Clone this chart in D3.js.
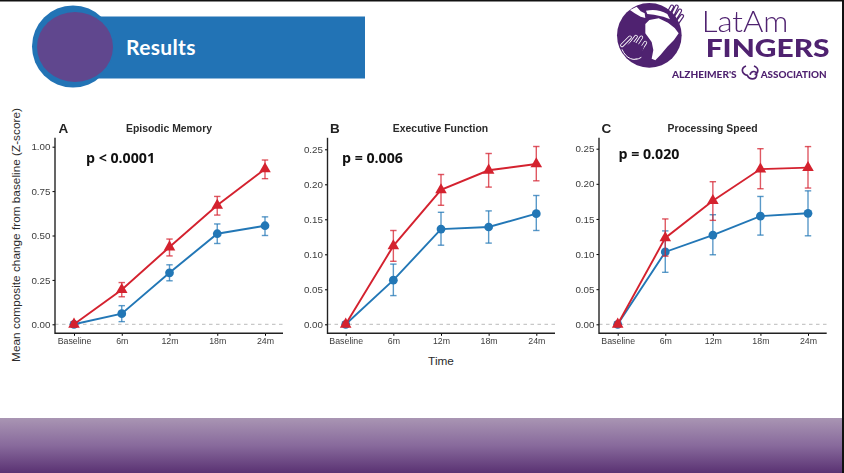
<!DOCTYPE html>
<html>
  <head>
    <meta charset="utf-8" />
    <!-- Load d3.js -->
    <script src="https://d3js.org/d3.v7.min.js"></script>
    <style>
      html, body { margin: 0; padding: 0; background: #fff; overflow: hidden; }
      svg { display: block; }
      text { font-family: "Liberation Sans", Arial, sans-serif; }
      .tick-y text { font-size: 9.8px; fill: #3c3c3c; }
      .tick-x text { font-size: 8.8px; fill: #3c3c3c; }
      .pval { font-family: "Open Sans", sans-serif; font-weight: 700; font-size: 14.2px; fill: #111; }
      .letter { font-weight: 700; font-size: 13.5px; fill: #222; }
      .title { font-weight: 700; font-size: 10.4px; fill: #2b2b2b; }
      .axis-title { font-size: 11.8px; fill: #2b2b2b; }
    </style>
  </head>
  <body>
    <svg id="chart" width="844" height="473"></svg>

    <script>
      // time points shared by all panels
      const timepoints = ["Baseline", "6m", "12m", "18m", "24m"];

      // panel A - episodic memory
      const memoryTicks = [0, 0.25, 0.5, 0.75, 1];
      const memoryRed = [0, 0.195, 0.435, 0.67, 0.875];
      const memoryRedLow = [-0.015, 0.155, 0.385, 0.615, 0.82];
      const memoryRedHigh = [0.015, 0.235, 0.48, 0.72, 0.925];
      const memoryBlue = [0, 0.06, 0.29, 0.51, 0.555];
      const memoryBlueLow = [0, 0.015, 0.245, 0.455, 0.5];
      const memoryBlueHigh = [0, 0.105, 0.335, 0.565, 0.605];

      // panel B - executive function
      const execTicks = [0, 0.05, 0.1, 0.15, 0.2, 0.25];
      const execRed = [0, 0.112, 0.192, 0.22, 0.229];
      const execRedLow = [-0.003, 0.09, 0.17, 0.196, 0.205];
      const execRedHigh = [0.003, 0.134, 0.214, 0.244, 0.254];
      const execBlue = [0, 0.063, 0.136, 0.139, 0.158];
      const execBlueLow = [0, 0.041, 0.113, 0.116, 0.134];
      const execBlueHigh = [0, 0.086, 0.16, 0.162, 0.184];

      // panel C - processing speed
      const speedTicks = [0, 0.05, 0.1, 0.15, 0.2, 0.25];
      const speedRed = [0, 0.123, 0.176, 0.221, 0.223];
      const speedRedLow = [-0.003, 0.097, 0.148, 0.193, 0.194];
      const speedRedHigh = [0.003, 0.15, 0.203, 0.25, 0.253];
      const speedBlue = [0, 0.103, 0.127, 0.154, 0.158];
      const speedBlueLow = [0, 0.074, 0.099, 0.127, 0.126];
      const speedBlueHigh = [0, 0.133, 0.156, 0.182, 0.19];

      const red = "#d4212f";
      const blue = "#2377b6";
      const logoPurple = "#4f2170";

      // the panels, with where each one sits on the slide
      const panels = [
        { letter: "A", title: "Episodic Memory", p: "p < 0.0001", ticks: memoryTicks, top: 1,
          r: [memoryRed, memoryRedLow, memoryRedHigh], b: [memoryBlue, memoryBlueLow, memoryBlueHigh],
          axisX: 55, x0: 74, x1: 265, xEnd: 283, yTopPx: 146.7, letterX: 58.5, titleX: 169, pX: 86, pY: 163 },
        { letter: "B", title: "Executive Function", p: "p = 0.006", ticks: execTicks, top: 0.25,
          r: [execRed, execRedLow, execRedHigh], b: [execBlue, execBlueLow, execBlueHigh],
          axisX: 327.5, x0: 345.7, x1: 536.3, xEnd: 555, yTopPx: 149.3, letterX: 330, titleX: 440.5, pX: 342, pY: 163 },
        { letter: "C", title: "Processing Speed", p: "p = 0.020", ticks: speedTicks, top: 0.25,
          r: [speedRed, speedRedLow, speedRedHigh], b: [speedBlue, speedBlueLow, speedBlueHigh],
          axisX: 599, x0: 617.7, x1: 808, xEnd: 826.7, yTopPx: 148.7, letterX: 601.5, titleX: 712.5, pX: 618.5, pY: 159 }
      ];

      const svg = d3.select("#chart");
      const defs = svg.append("defs");

      const grad = defs.append("linearGradient").attr("id", "footer").attr("x1", 0).attr("x2", 0).attr("y1", 0).attr("y2", 1);
      grad.append("stop").attr("offset", "0%").attr("stop-color", "#a995b3");
      grad.append("stop").attr("offset", "50%").attr("stop-color", "#886a9c");
      grad.append("stop").attr("offset", "100%").attr("stop-color", "#5a3273");

      // soft edge, the reference is a video frame
      defs.append("filter").attr("id", "soft").append("feGaussianBlur").attr("stdDeviation", 0.4);

      // slide furniture
      svg.append("rect").attr("width", 844).attr("height", 473).attr("fill", "#fff");
      svg.append("rect").attr("x", 0).attr("y", 418).attr("width", 842).attr("height", 55).attr("fill", "url(#footer)");
      svg.append("rect").attr("x", 0).attr("y", 0).attr("width", 844).attr("height", 1.5).attr("fill", "#111");
      svg.append("rect").attr("x", 842).attr("y", 0).attr("width", 2).attr("height", 473).attr("fill", "#111");

      // banner
      svg.append("rect").attr("x", 90).attr("y", 16.5).attr("width", 275).attr("height", 62).attr("fill", "#2273b5");
      svg.append("circle").attr("cx", 73).attr("cy", 46.5).attr("r", 41).attr("fill", "#2273b5");
      svg.append("ellipse").attr("cx", 75).attr("cy", 47).attr("rx", 38).attr("ry", 35).attr("fill", "#60478e");
      svg.append("text").attr("x", 126).attr("y", 55).attr("fill", "#fff")
        .style("font-family", "Lato, sans-serif").style("font-weight", 700).style("font-size", "21px")
        .style("letter-spacing", "0.35px").text("Results");

      // logo globe, drawn in zoomed-crop units
      const globe = svg.append("g").attr("transform", "translate(610,0) scale(0.3333)").attr("filter", "url(#soft)");

      // hand behind the top right of the circle
      const topFingers = "M172,46 L186,20 M184,52 L200,20 M194,58 L210,32 M202,68 L216,48";
      globe.append("path").attr("d", topFingers).attr("fill", "none").attr("stroke", logoPurple)
        .attr("stroke-width", 13).attr("stroke-linecap", "round");
      globe.append("path").attr("d", topFingers).attr("fill", "none").attr("stroke", "#fff")
        .attr("stroke-width", 6).attr("stroke-linecap", "round");

      globe.append("circle").attr("cx", 118).attr("cy", 106).attr("r", 97).attr("fill", logoPurple);

      // land and sea
      globe.append("path").attr("fill", "#fff")
        .attr("d", "M60,30 L80,20 L92,34 L104,40 L106,54 L92,50 L74,40 Z");
      globe.append("path").attr("fill", "#fff")
        .attr("d", "M108,32 C130,27 152,30 172,42 L180,58 L160,50 L132,44 L112,42 Z");
      globe.append("path").attr("fill", "#fff")
        .attr("d", "M106,72 L118,60 L146,55 L174,68 L194,84 L206,100 L192,120 L172,140 L152,164 L136,181 L125,176 L130,150 L125,126 L106,100 Z");

      // hand at the bottom left, only an outline on the purple
      const lowFingers = "M36,136 L60,112 M48,150 L78,110 M62,160 L94,112 M78,170 L106,128";
      globe.append("path").attr("d", lowFingers).attr("fill", "none").attr("stroke", "#fff")
        .attr("stroke-width", 11).attr("stroke-linecap", "round");
      globe.append("path").attr("d", lowFingers).attr("fill", "none").attr("stroke", logoPurple)
        .attr("stroke-width", 6).attr("stroke-linecap", "round");
      globe.append("path").attr("d", "M38,146 C48,172 72,182 92,170 L102,140 L66,124 Z")
        .attr("fill", logoPurple).attr("stroke", "none");
      globe.append("path").attr("d", "M36,148 C48,176 72,186 94,172").attr("fill", "none")
        .attr("stroke", "#fff").attr("stroke-width", 3);

      // logo lettering
      const logo = svg.append("g").attr("transform", "translate(600,0) scale(0.3333)").attr("filter", "url(#soft)");
      logo.append("text").attr("x", 305).attr("y", 96).attr("fill", logoPurple)
        .attr("textLength", 260).attr("lengthAdjust", "spacingAndGlyphs")
        .style("font-family", "Lato, sans-serif").style("font-weight", 300).style("font-size", "88px").text("LatAm");
      logo.append("text").attr("x", 317).attr("y", 172).attr("fill", logoPurple)
        .attr("textLength", 372).attr("lengthAdjust", "spacingAndGlyphs")
        .style("font-family", "Lato, sans-serif").style("font-weight", 900).style("font-size", "76px").text("FINGERS");
      logo.append("text").attr("x", 216).attr("y", 233).attr("fill", logoPurple)
        .attr("textLength", 194).attr("lengthAdjust", "spacingAndGlyphs")
        .style("font-family", "Lato, sans-serif").style("font-weight", 900).style("font-size", "27px").text("ALZHEIMER'S");
      logo.append("text").attr("x", 482).attr("y", 233).attr("fill", logoPurple)
        .attr("textLength", 198).attr("lengthAdjust", "spacingAndGlyphs")
        .style("font-family", "Lato, sans-serif").style("font-weight", 900).style("font-size", "27px").text("ASSOCIATION");
      logo.append("path").attr("fill", "none").attr("stroke", logoPurple).attr("stroke-width", 5)
        .attr("d", "M438,198 C422,204 424,222 442,226 C448,240 468,240 470,226 C472,212 454,210 450,224 M462,198 C478,204 476,220 464,224");

      const zeroPx = 324.3;
      const axisPx = 333.3;
      const topPx = 137.8;

      panels.forEach(function (d) {
        const g = svg.append("g").attr("filter", "url(#soft)");

        const x = d3.scalePoint().domain(timepoints).range([d.x0, d.x1]);
        const y = d3.scaleLinear().domain([0, d.top]).range([zeroPx, d.yTopPx]);

        // dashed zero line
        g.append("line")
          .attr("x1", d.axisX).attr("x2", d.xEnd)
          .attr("y1", y(0)).attr("y2", y(0))
          .attr("stroke", "#a8a8a8").attr("stroke-width", 0.8).attr("stroke-dasharray", "3.5,3.5");

        // axes
        const yAxis = d3.axisLeft(y).tickValues(d.ticks).tickFormat(d3.format(".2f")).tickSize(2.5).tickPadding(2);
        const yG = g.append("g").attr("class", "tick-y").attr("transform", "translate(" + d.axisX + ",0)").call(yAxis);
        yG.select(".domain").remove();
        yG.append("line").attr("y1", topPx).attr("y2", axisPx + 0.7).attr("stroke", "#222").attr("stroke-width", 1.4);

        const xAxis = d3.axisBottom(x).tickSize(2.5).tickPadding(2);
        const xG = g.append("g").attr("class", "tick-x").attr("transform", "translate(0," + axisPx + ")").call(xAxis);
        xG.select(".domain").remove();
        xG.append("line").attr("x1", d.axisX).attr("x2", d.xEnd).attr("stroke", "#222").attr("stroke-width", 1.4);

        // the two groups, blue underneath
        [[d.b, blue, d3.symbolCircle, 60], [d.r, red, d3.symbolTriangle, 58]].forEach(function (s) {
          const vals = s[0][0], low = s[0][1], high = s[0][2], col = s[1];
          const pts = timepoints.map(function (t, i) {
            return { t: t, v: vals[i], low: low[i], high: high[i] };
          });
          const bars = g.append("g").attr("stroke", col).attr("stroke-width", 1.4).attr("stroke-opacity", 0.75);
          bars.selectAll(".stem").data(pts).join("line").attr("class", "stem")
            .attr("x1", p => x(p.t)).attr("x2", p => x(p.t))
            .attr("y1", p => y(p.low)).attr("y2", p => y(p.high));
          bars.selectAll(".capl").data(pts).join("line").attr("class", "capl")
            .attr("x1", p => x(p.t) - 3.2).attr("x2", p => x(p.t) + 3.2)
            .attr("y1", p => y(p.low)).attr("y2", p => y(p.low));
          bars.selectAll(".caph").data(pts).join("line").attr("class", "caph")
            .attr("x1", p => x(p.t) - 3.2).attr("x2", p => x(p.t) + 3.2)
            .attr("y1", p => y(p.high)).attr("y2", p => y(p.high));

          const line = d3.line().x(p => x(p.t)).y(p => y(p.v));
          g.append("path").datum(pts).attr("d", line)
            .attr("fill", "none").attr("stroke", col).attr("stroke-width", 1.9);

          g.selectAll(null).data(pts).join("path")
            .attr("d", d3.symbol().type(s[2]).size(s[3]))
            .attr("transform", p => "translate(" + x(p.t) + "," + y(p.v) + ")")
            .attr("fill", col);
        });

        g.append("text").attr("class", "letter").attr("x", d.letterX).attr("y", 132.5).text(d.letter);
        g.append("text").attr("class", "title").attr("x", d.titleX).attr("y", 132).attr("text-anchor", "middle").text(d.title);
        svg.append("text").attr("class", "pval").attr("x", d.pX).attr("y", d.pY).text(d.p);
      });

      // shared axis titles
      svg.append("text").attr("class", "axis-title")
        .attr("transform", "translate(20,235) rotate(-90)")
        .attr("text-anchor", "middle")
        .text("Mean composite change from baseline (Z-score)");
      svg.append("text").attr("class", "axis-title").attr("x", 441).attr("y", 365)
        .attr("text-anchor", "middle").text("Time");
    </script>
  </body>
</html>
